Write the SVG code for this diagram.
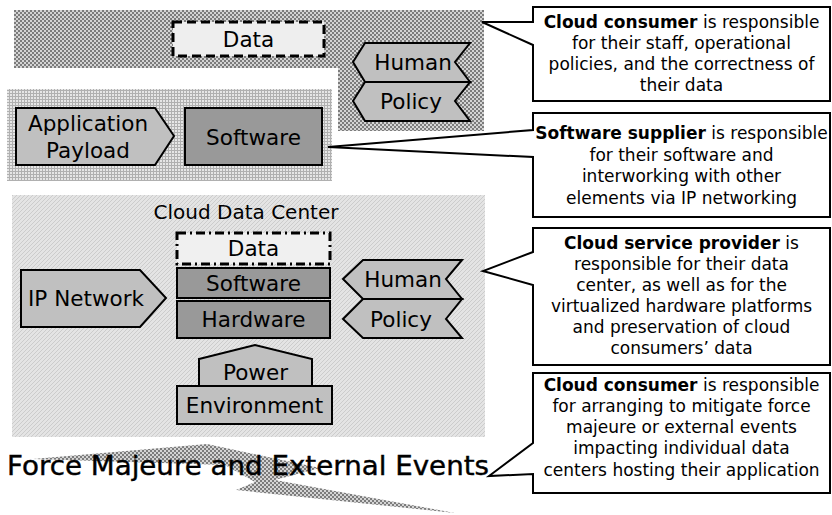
<svg xmlns="http://www.w3.org/2000/svg" width="832" height="515" viewBox="0 0 832 515">
<style>
.lbl{font-family:"DejaVu Sans","Liberation Sans",sans-serif;font-size:21.5px;fill:#000;text-anchor:middle}
.co{font-family:"DejaVu Sans","Liberation Sans",sans-serif;font-size:17px;fill:#000;text-anchor:middle}
.b{font-weight:bold}
.shape{stroke:#000;stroke-width:2}
.light{fill:#c0c0c0}
.dark{fill:#999999}
.callout{fill:#fff;stroke:#000;stroke-width:2;stroke-linejoin:miter}
</style>
<defs>
<pattern id="checker" width="4" height="4" patternUnits="userSpaceOnUse">
<rect width="4" height="4" fill="#d4d4d4"/>
<rect width="2" height="2" fill="#7c7c7c"/>
<rect x="2" y="2" width="2" height="2" fill="#7c7c7c"/>
</pattern>
<pattern id="grid" width="3" height="3" patternUnits="userSpaceOnUse">
<rect width="3" height="3" fill="#e6e6e6"/>
<path d="M0,0.5H3M0.5,0V3" stroke="#b0b0b0" stroke-width="1"/>
</pattern>
<pattern id="hatch" width="4" height="4" patternUnits="userSpaceOnUse">
<rect width="4" height="4" fill="#e4e4e4"/>
<path d="M0,4L4,0" stroke="#cccccc" stroke-width="1"/>
</pattern>
</defs>

<g id="consumer-region">
<polygon points="14,10 484,10 484,131 338,131 338,68 14,68" fill="url(#checker)"/>
</g>
<g id="data-top">
<rect x="173" y="22" width="151" height="34" fill="#eeeeee" stroke="#000" stroke-width="3" stroke-dasharray="9 5"/>
<text class="lbl" x="248.5" y="47">Data</text>
</g>
<g id="human-top">
<polygon class="shape light" points="353,62 365,43 470,43 455,62 470,82 365,82"/>
<text class="lbl" x="413" y="70">Human</text>
</g>
<g id="policy-top">
<polygon class="shape light" points="353,101 365,82 470,82 455,101 470,121 365,121"/>
<text class="lbl" x="411" y="109">Policy</text>
</g>

<g id="supplier-region">
<rect x="7" y="89" width="325" height="92" fill="url(#grid)"/>
</g>
<g id="app-payload">
<polygon class="shape light" points="16,108 155,108 174,136 155,165 16,165"/>
<text class="lbl" x="88" y="131">Application</text>
<text class="lbl" x="88" y="158">Payload</text>
</g>
<g id="software-top">
<rect class="shape dark" x="185" y="108" width="137" height="57"/>
<text class="lbl" x="253.5" y="145">Software</text>
</g>

<g id="cloud-data-center">
<rect x="12" y="195" width="473" height="242" fill="url(#hatch)"/>
<text class="lbl" x="246" y="219" style="font-size:20px">Cloud Data Center</text>
</g>
<g id="data-center">
<rect x="177" y="233" width="153" height="31" fill="#f0f0f0" stroke="#000" stroke-width="3" stroke-dasharray="9 4 2 4"/>
<text class="lbl" x="253.5" y="256">Data</text>
</g>
<g id="software-center">
<rect class="shape dark" x="177" y="268" width="153" height="30"/>
<text class="lbl" x="253.5" y="291">Software</text>
</g>
<g id="hardware-center">
<rect class="shape dark" x="177" y="301" width="153" height="37"/>
<text class="lbl" x="253.5" y="327">Hardware</text>
</g>
<g id="ip-network">
<polygon class="shape light" points="21,270 140,270 166,298 140,327 21,327"/>
<text class="lbl" x="86" y="306">IP Network</text>
</g>
<g id="human-center">
<polygon class="shape light" points="343,279 363,260 462,260 446,279 462,299 363,299"/>
<text class="lbl" x="403" y="287">Human</text>
</g>
<g id="policy-center">
<polygon class="shape light" points="343,319 363,299 462,299 446,319 462,338 363,338"/>
<text class="lbl" x="401" y="327">Policy</text>
</g>
<g id="power">
<polygon class="shape light" points="199,359 255,345 312,359 312,386 199,386"/>
<text class="lbl" x="255.5" y="380">Power</text>
</g>
<g id="environment">
<rect class="shape light" x="177" y="386" width="155" height="38"/>
<text class="lbl" x="254.5" y="413">Environment</text>
</g>

<g id="force-majeure">
<polygon points="33,459 207,444 320,468 275,480 455,513 236,490 255,482 225,465" fill="url(#checker)"/>
<text x="7" y="475" font-family="'DejaVu Sans','Liberation Sans',sans-serif" font-size="26" textLength="482" lengthAdjust="spacingAndGlyphs" fill="#000" stroke="#000" stroke-width="0.4">Force Majeure and External Events</text>
</g>

<g id="connectors">
<path class="callout" d="M533,7H830V101H533V45L482,22H533Z"/>
<path class="callout" d="M533,113H830V217H533V157L328,147L533,130Z"/>
<path class="callout" d="M533,228H830V365H533V285L483,271L533,252Z"/>
<path class="callout" d="M533,373H830V493H533V474L489,476L533,443Z"/>
</g>

<g id="callout-consumer">
<text class="co" x="681.5" y="28"><tspan class="b">Cloud consumer</tspan> is responsible</text>
<text class="co" x="681.5" y="49">for their staff, operational</text>
<text class="co" x="681.5" y="70">policies, and the correctness of</text>
<text class="co" x="681.5" y="91">their data</text>
</g>
<g id="callout-supplier">
<text class="co" x="681.5" y="139"><tspan class="b">Software supplier</tspan> is responsible</text>
<text class="co" x="681.5" y="160.5">for their software and</text>
<text class="co" x="681.5" y="182">interworking with other</text>
<text class="co" x="681.5" y="203.5">elements via IP networking</text>
</g>
<g id="callout-provider">
<text class="co" x="681.5" y="249"><tspan class="b">Cloud service provider</tspan> is</text>
<text class="co" x="681.5" y="270">responsible for their data</text>
<text class="co" x="681.5" y="291">center, as well as for the</text>
<text class="co" x="681.5" y="312">virtualized hardware platforms</text>
<text class="co" x="681.5" y="333">and preservation of cloud</text>
<text class="co" x="681.5" y="354">consumers’ data</text>
</g>
<g id="callout-force">
<text class="co" x="681.5" y="391"><tspan class="b">Cloud consumer</tspan> is responsible</text>
<text class="co" x="681.5" y="412">for arranging to mitigate force</text>
<text class="co" x="681.5" y="433">majeure or external events</text>
<text class="co" x="681.5" y="454">impacting individual data</text>
<text class="co" x="681.5" y="476">centers hosting their application</text>
</g>
</svg>
